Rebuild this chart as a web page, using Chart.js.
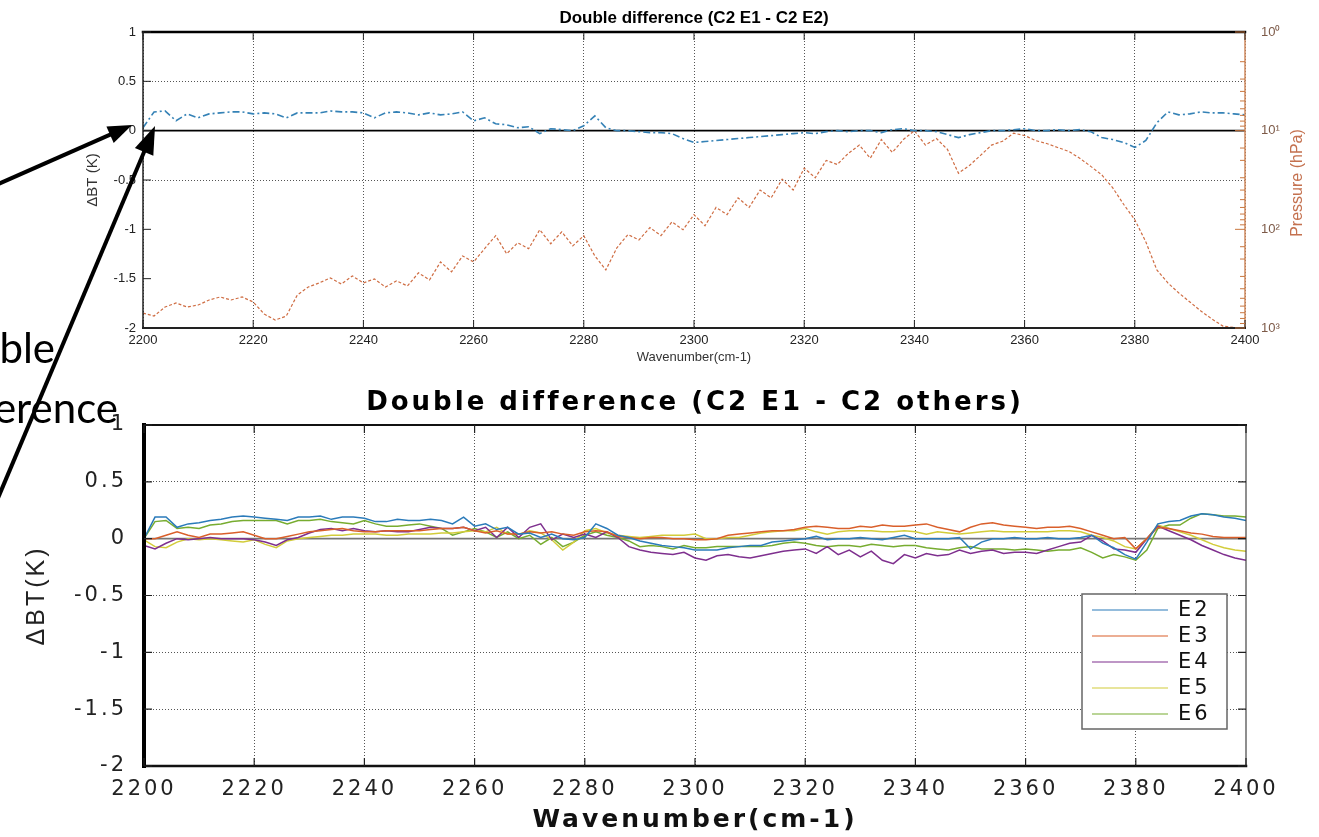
<!DOCTYPE html>
<html lang="en">
<head>
<meta charset="UTF-8">
<title>Double difference</title>
<script src="https://cdn.jsdelivr.net/npm/chart.js"></script>
<style>
  body { margin: 0; background: #fff; }
  .page { position: relative; width: 1319px; height: 837px; overflow: hidden; background: #fff; }
  #topChart { position: absolute; left: 0; top: 0; }
  #bottomChart { position: absolute; left: 0; top: 375px; }
  .notes { position: absolute; left: 0; top: 0; pointer-events: none; }
</style>
</head>
<body>
<div class="page">
  <canvas id="topChart" width="1319" height="375"></canvas>
  <canvas id="bottomChart" width="1319" height="462"></canvas>
  <svg class="notes" id="notes" width="1319" height="837">
    <text x="55" y="363" text-anchor="end" font-family="Lato, 'Open Sans', sans-serif" font-size="42" fill="#000">Double</text>
    <text x="118" y="423" text-anchor="end" font-family="Lato, 'Open Sans', sans-serif" font-size="42" fill="#000">difference</text>
  </svg>
</div>

<script>
// wavenumber grid (cm-1)
const waveNum = [
  2200, 2202, 2204, 2206, 2208, 2210, 2212, 2214, 2216, 2218,
  2220, 2222, 2224, 2226, 2228, 2230, 2232, 2234, 2236, 2238,
  2240, 2242, 2244, 2246, 2248, 2250, 2252, 2254, 2256, 2258,
  2260, 2262, 2264, 2266, 2268, 2270, 2272, 2274, 2276, 2278,
  2280, 2282, 2284, 2286, 2288, 2290, 2292, 2294, 2296, 2298,
  2300, 2302, 2304, 2306, 2308, 2310, 2312, 2314, 2316, 2318,
  2320, 2322, 2324, 2326, 2328, 2330, 2332, 2334, 2336, 2338,
  2340, 2342, 2344, 2346, 2348, 2350, 2352, 2354, 2356, 2358,
  2360, 2362, 2364, 2366, 2368, 2370, 2372, 2374, 2376, 2378,
  2380, 2382, 2384, 2386, 2388, 2390, 2392, 2394, 2396, 2398,
  2400
];

// top panel: C2 E1 - C2 E2 (K)
const topDeltaBT = [
  0.03, 0.19, 0.2, 0.1, 0.17, 0.13, 0.17, 0.18, 0.19, 0.19,
  0.17, 0.18, 0.17, 0.13, 0.18, 0.18, 0.18, 0.2, 0.19, 0.19,
  0.18, 0.13, 0.18, 0.19, 0.18, 0.16, 0.18, 0.16, 0.17, 0.19,
  0.1, 0.13, 0.07, 0.06, 0.03, 0.04, -0.03, 0.02, 0.01, 0.0,
  0.05, 0.15, 0.03, 0.0, 0.0, -0.01, -0.02, -0.02, -0.03, -0.08,
  -0.12, -0.11, -0.1, -0.09, -0.08, -0.07, -0.06, -0.05, -0.04, -0.03,
  -0.02, -0.03, -0.01, 0.0, -0.01, 0.0, 0.0, -0.02, 0.01, 0.02,
  0.0, 0.0, -0.01, -0.04, -0.07, -0.04, -0.02, 0.0, 0.0, 0.01,
  0.02, 0.0, 0.0, 0.01, 0.0, 0.01, -0.01, -0.07, -0.09, -0.12,
  -0.17, -0.1, 0.08, 0.19, 0.16, 0.17, 0.19, 0.18, 0.18, 0.17,
  0.16
];

// top panel: weighting function peak pressure (hPa)
const topPressure = [
  705, 757, 613, 558, 613, 585, 520, 485, 520, 485,
  545, 722, 831, 757, 463, 384, 349, 311, 358, 297,
  349, 318, 384, 333, 375, 276, 326, 214, 270, 186,
  214, 157, 116, 177, 137, 157, 101, 140, 106, 147,
  116, 186, 258, 154, 113, 128, 96, 116, 84, 101,
  71, 92, 60, 71, 48, 60, 40, 48, 31, 40,
  24, 30, 20, 22, 17, 14, 19, 12.3, 16.6, 12.3,
  10, 14, 12, 15.5, 27, 22.5, 17.8, 14, 12.8, 10.6,
  11.2, 12.6, 13.5, 14.8, 16.2, 19, 23, 28, 38, 56,
  80, 134, 258, 349, 442, 545, 673, 811, 957, 990,
  990
];

// bottom panel: C2 E1 - C2 En (K)
const seriesE2 = [
  0.0, 0.19, 0.19, 0.1, 0.13, 0.14, 0.16, 0.17, 0.19, 0.2,
  0.19, 0.18, 0.17, 0.16, 0.19, 0.19, 0.2, 0.17, 0.19, 0.19,
  0.18, 0.15, 0.15, 0.17, 0.16, 0.16, 0.17, 0.16, 0.13, 0.19,
  0.11, 0.13, 0.08, 0.1, 0.04, 0.05, 0.01, 0.04, 0.0, -0.01,
  0.01, 0.13, 0.09, 0.03, 0.01, -0.02, -0.04, -0.06, -0.07, -0.08,
  -0.1, -0.1, -0.1, -0.08, -0.07, -0.06, -0.06, -0.03, -0.02, -0.01,
  0.0, 0.02, -0.01, 0.0, 0.0, 0.01, 0.0, -0.01, 0.01, 0.03,
  0.0, 0.0, 0.0, 0.0, 0.01, -0.09, -0.03, 0.0, 0.0, 0.01,
  0.0, 0.0, 0.01, 0.0, 0.0, 0.01, 0.03, -0.04, -0.08, -0.14,
  -0.18, -0.03, 0.13, 0.15, 0.16, 0.2, 0.22, 0.21, 0.19, 0.18,
  0.16
];
const seriesE3 = [
  0.0, 0.0, 0.03, 0.06, 0.03, 0.01, 0.04, 0.04, 0.05, 0.06,
  0.03, 0.0, 0.0, 0.02, 0.04, 0.06, 0.07, 0.08, 0.09, 0.07,
  0.06, 0.06, 0.07, 0.07, 0.07, 0.07, 0.08, 0.09, 0.09, 0.1,
  0.07, 0.05, 0.07, 0.04, 0.04, 0.06, 0.05, 0.06, 0.04, 0.03,
  0.06, 0.07, 0.06, 0.02, 0.01, 0.0, 0.01, 0.01, 0.0, 0.0,
  -0.01, -0.01, 0.0, 0.03, 0.04, 0.05, 0.06, 0.07, 0.07, 0.08,
  0.1, 0.11, 0.1, 0.09, 0.09, 0.11, 0.1, 0.12, 0.11, 0.11,
  0.12, 0.13, 0.1, 0.08, 0.06, 0.1, 0.13, 0.14, 0.12, 0.11,
  0.1, 0.09, 0.1, 0.1, 0.11, 0.09, 0.06, 0.03, 0.0, 0.01,
  -0.09, 0.0, 0.1, 0.09, 0.07, 0.05, 0.04, 0.02, 0.01, 0.01,
  0.01
];
const seriesE4 = [
  -0.06, -0.09, -0.04, 0.0, -0.01, 0.0, 0.01, 0.0, 0.0, 0.0,
  -0.01, -0.03, -0.06, -0.01, 0.01, 0.05, 0.08, 0.09, 0.07, 0.09,
  0.07, 0.06, 0.07, 0.06, 0.06, 0.08, 0.1, 0.09, 0.09, 0.1,
  0.07, 0.1, 0.01, 0.1, 0.01, 0.1, 0.13, -0.01, 0.04, 0.01,
  0.04, 0.01, 0.06, 0.01, -0.07, -0.1, -0.12, -0.13, -0.14, -0.12,
  -0.17, -0.19, -0.15, -0.14, -0.16, -0.17, -0.15, -0.13, -0.11, -0.1,
  -0.09, -0.13, -0.07, -0.14, -0.1, -0.16, -0.11, -0.19, -0.22, -0.14,
  -0.17, -0.13, -0.15, -0.14, -0.1, -0.13, -0.11, -0.1, -0.13, -0.12,
  -0.12, -0.13, -0.1, -0.07, -0.04, -0.03, 0.03, -0.02, -0.09, -0.1,
  -0.12, 0.0, 0.11, 0.07, 0.03, -0.01, -0.06, -0.1, -0.14, -0.17,
  -0.19
];
const seriesE5 = [
  -0.01, -0.07, -0.08, -0.03, 0.0, -0.01, 0.0, -0.01, -0.02, -0.03,
  -0.01, -0.05, -0.08, -0.02, 0.0, 0.01, 0.02, 0.03, 0.03, 0.04,
  0.04, 0.04, 0.03, 0.03, 0.04, 0.04, 0.04, 0.05, 0.05, 0.06,
  0.07, 0.06, 0.1, 0.04, 0.04, 0.07, 0.05, -0.01, -0.1, -0.03,
  0.07, 0.09, 0.05, 0.03, 0.02, 0.01, 0.02, 0.03, 0.03, 0.03,
  0.04, 0.0, 0.0, 0.01, 0.01, 0.03, 0.05, 0.06, 0.07, 0.07,
  0.09, 0.06, 0.04, 0.06, 0.07, 0.07, 0.07, 0.06, 0.06, 0.07,
  0.06, 0.04, 0.06, 0.05, 0.04, 0.05, 0.06, 0.07, 0.06, 0.06,
  0.06, 0.06, 0.06, 0.07, 0.07, 0.06, 0.03, 0.01, -0.02, -0.07,
  -0.09, 0.0, 0.12, 0.09, 0.06, 0.03, -0.01, -0.05, -0.08, -0.1,
  -0.11
];
const seriesE6 = [
  0.0, 0.15, 0.16, 0.09, 0.1, 0.09, 0.12, 0.13, 0.15, 0.16,
  0.16, 0.16, 0.16, 0.13, 0.16, 0.16, 0.17, 0.15, 0.14, 0.13,
  0.16, 0.13, 0.11, 0.11, 0.12, 0.13, 0.11, 0.09, 0.03, 0.06,
  0.09, 0.06, 0.01, 0.06, 0.0, 0.03, -0.05, 0.01, -0.07, -0.03,
  0.03, 0.06, 0.03, 0.01, -0.02, -0.07, -0.06, -0.07, -0.09, -0.06,
  -0.08, -0.08, -0.07, -0.07, -0.07, -0.07, -0.07, -0.06, -0.04, -0.03,
  -0.04, -0.06, -0.07, -0.06, -0.06, -0.07, -0.05, -0.06, -0.07, -0.06,
  -0.06, -0.08, -0.09, -0.1, -0.08, -0.07, -0.09, -0.09, -0.09, -0.1,
  -0.09, -0.1, -0.11, -0.1, -0.1, -0.08, -0.12, -0.17, -0.14, -0.16,
  -0.19, -0.1, 0.09, 0.12, 0.12, 0.18, 0.22, 0.21, 0.2, 0.2,
  0.19
];
const seriesNames = ['E2', 'E3', 'E4', 'E5', 'E6'];

const zeroWave = [2200, 2400];
const zeroLine = [0, 0];

const pressureTicks = [1, 10, 100, 1000];

function pairs(xs, ys) {
  return xs.map((x, i) => ({ x: x, y: ys[i] }));
}

// chart area border, with a width/colour per side
const frame = {
  id: 'frame',
  afterDatasetsDraw(chart, args, o) {
    const { ctx, chartArea: a } = chart;
    const sides = {
      top: [a.left, a.top, a.right, a.top],
      bottom: [a.left, a.bottom, a.right, a.bottom],
      left: [a.left, a.top, a.left, a.bottom],
      right: [a.right, a.top, a.right, a.bottom]
    };
    ctx.save();
    ctx.lineCap = 'square';
    for (const k of ['right', 'top', 'bottom', 'left']) {
      const p = sides[k];
      ctx.strokeStyle = o[k + 'Color'];
      ctx.lineWidth = o[k + 'Width'];
      ctx.beginPath();
      ctx.moveTo(p[0], p[1]);
      ctx.lineTo(p[2], p[3]);
      ctx.stroke();
    }
    ctx.restore();
  }
};

// matlab style tick marks pointing into the plot
const innerTicks = {
  id: 'innerTicks',
  afterDatasetsDraw(chart, args, o) {
    const { ctx, chartArea: a, scales } = chart;
    ctx.save();
    ctx.strokeStyle = o.color;
    ctx.lineWidth = o.width;
    ctx.beginPath();
    scales.x.ticks.forEach(t => {
      const px = scales.x.getPixelForValue(t.value);
      ctx.moveTo(px, a.bottom); ctx.lineTo(px, a.bottom - o.len);
      ctx.moveTo(px, a.top); ctx.lineTo(px, a.top + o.len);
    });
    scales.y.ticks.forEach(t => {
      const py = scales.y.getPixelForValue(t.value);
      ctx.moveTo(a.left, py); ctx.lineTo(a.left + o.len, py);
      if (o.right) { ctx.moveTo(a.right, py); ctx.lineTo(a.right - o.len, py); }
    });
    ctx.stroke();
    if (o.logAxis) {
      const s = scales[o.logAxis];
      ctx.strokeStyle = o.logColor;
      ctx.lineWidth = 1;
      ctx.beginPath();
      s.ticks.forEach(t => {
        const e = Math.log10(t.value);
        const major = Math.abs(e - Math.round(e)) < 1e-9;
        const py = s.getPixelForValue(t.value);
        ctx.moveTo(a.right, py);
        ctx.lineTo(a.right - (major ? 10 : 5), py);
      });
      ctx.stroke();
    }
    ctx.restore();
  }
};

// right axis label reading bottom to top
const sideLabel = {
  id: 'sideLabel',
  afterDraw(chart, args, o) {
    const { ctx, chartArea: a } = chart;
    ctx.save();
    ctx.translate(a.right + o.offset, (a.top + a.bottom) / 2 + o.shift);
    ctx.rotate(-Math.PI / 2);
    ctx.font = o.font;
    ctx.fillStyle = o.color;
    ctx.textAlign = 'center';
    ctx.textBaseline = 'middle';
    ctx.fillText(o.text, 0, 0);
    ctx.restore();
  }
};

// boxed legend inside the plot, lower right
const boxLegend = {
  id: 'boxLegend',
  afterDraw(chart, args, o) {
    const { ctx, chartArea: a } = chart;
    const items = chart.data.datasets.filter(d => d.label);
    const x0 = a.right - o.right - o.width;
    const y0 = a.top + o.top;
    const h = o.rowH * items.length + 5;
    ctx.save();
    ctx.fillStyle = '#fff';
    ctx.fillRect(x0, y0, o.width, h);
    ctx.strokeStyle = '#666';
    ctx.lineWidth = 1.5;
    ctx.strokeRect(x0, y0, o.width, h);
    ctx.font = o.font;
    ctx.textBaseline = 'middle';
    ctx.fillStyle = '#111';
    items.forEach((d, i) => {
      const y = y0 + 16 + i * o.rowH;
      ctx.strokeStyle = d.borderColor;
      ctx.lineWidth = 1.2;
      ctx.beginPath();
      ctx.moveTo(x0 + 10, y); ctx.lineTo(x0 + 86, y);
      ctx.stroke();
      ctx.fillText(d.label, x0 + 96, y + 1);
    });
    ctx.restore();
  }
};

const spacing = {
  id: 'spacing',
  beforeUpdate(chart, args, o) { chart.ctx.letterSpacing = o.px + 'px'; },
  beforeDraw(chart, args, o) { chart.ctx.letterSpacing = o.px + 'px'; }
};

const topFont = "'Liberation Sans', Arial, sans-serif";
const sup = ['\u2070', '\u00b9', '\u00b2', '\u00b3'];

new Chart(document.getElementById('topChart'), {
  type: 'line',
  data: {
    datasets: [
      { label: 'E2', data: pairs(waveNum, topDeltaBT), yAxisID: 'y', borderColor: '#3582b6',
        borderWidth: 1.6, borderDash: [7, 3, 2, 3], pointRadius: 0, order: 1 },
      { label: 'Pressure', data: pairs(waveNum, topPressure), yAxisID: 'y1', borderColor: '#cf6d43',
        borderWidth: 1.2, borderDash: [3, 2], pointRadius: 0, order: 2 },
      { label: '', data: pairs(zeroWave, zeroLine), yAxisID: 'y', borderColor: '#000',
        borderWidth: 1.6, pointRadius: 0, order: 3 }
    ]
  },
  plugins: [frame, innerTicks, sideLabel],
  options: {
    responsive: false,
    animation: false,
    layout: { padding: 0 },
    plugins: {
      legend: { display: false },
      tooltip: { enabled: false },
      title: {
        display: true, fullSize: false,
        text: 'Double difference (C2 E1 - C2 E2)',
        color: '#000',
        font: { family: topFont, size: 17, weight: 'bold' },
        padding: { top: 8, bottom: 3.6 }
      },
      frame: { topColor: '#000', topWidth: 2.5, bottomColor: '#222', bottomWidth: 2,
               leftColor: '#222', leftWidth: 1.5, rightColor: '#d08a5e', rightWidth: 1.5 },
      innerTicks: { color: '#222', width: 1, len: 8, right: false, logAxis: 'y1', logColor: '#c9773f' },
      sideLabel: { text: 'Pressure (hPa)', offset: 53, shift: 3, color: '#c4714f',
                   font: "16px 'Liberation Sans', Arial, sans-serif" }
    },
    scales: {
      x: {
        type: 'linear', min: 2200, max: 2400,
        ticks: { stepSize: 20, maxRotation: 0, padding: 5, color: '#222',
                 font: { family: topFont, size: 13 }, callback: v => String(v) },
        grid: { color: '#555', lineWidth: 1, drawTicks: false },
        border: { display: false, dash: [1, 2] },
        title: { display: true, text: 'Wavenumber(cm-1)', color: '#333',
                 font: { family: topFont, size: 13 }, padding: { top: 0, bottom: 10 } },
        afterFit: s => { s.height = 47; }
      },
      y: {
        min: -2, max: 1,
        ticks: { stepSize: 0.5, padding: 7, color: '#222',
                 font: { family: topFont, size: 13 }, callback: v => String(v) },
        grid: {
          drawTicks: false, lineWidth: 1,
          color: c => (c.tick && Math.abs(Math.abs(c.tick.value) - 0.5) < 1e-6) ? '#555' : 'rgba(0,0,0,0)'
        },
        border: { display: false, dash: [1, 2] },
        title: { display: true, text: '\u0394BT (K)', color: '#333',
                 font: { family: topFont, size: 15 }, padding: { top: 84, bottom: 0 } },
        afterFit: s => { s.width = 143; }
      },
      y1: {
        type: 'logarithmic', position: 'right', reverse: true, min: 1, max: 1000,
        grid: { display: false },
        border: { display: false },
        ticks: {
          autoSkip: false, padding: 8, color: '#7d5a48',
          font: { family: topFont, size: 13 },
          callback: v => {
            const k = pressureTicks.indexOf(Number(v));
            return k >= 0 ? '10' + sup[k] : '';
          }
        },
        afterFit: s => { s.width = 74; }
      }
    }
  }
});

const bottomFont = "'DejaVu Sans', Verdana, sans-serif";
const seriesColors = ['#2b7bba', '#d95f2b', '#7e2f8e', '#d2cc3a', '#77ac30'];
const bottomSeries = [seriesE2, seriesE3, seriesE4, seriesE5, seriesE6];

const bottomSets = bottomSeries.map((vals, i) => ({
  label: seriesNames[i], data: pairs(waveNum, vals), borderColor: seriesColors[i],
  borderWidth: 1.5, pointRadius: 0, order: i + 1
}));
bottomSets.push({ label: '', data: pairs(zeroWave, zeroLine), borderColor: '#777',
                  borderWidth: 1.6, pointRadius: 0, order: 10 });

new Chart(document.getElementById('bottomChart'), {
  type: 'line',
  data: { datasets: bottomSets },
  plugins: [spacing, frame, innerTicks, boxLegend],
  options: {
    responsive: false,
    animation: false,
    layout: { padding: { right: 73 } },
    plugins: {
      legend: { display: false },
      tooltip: { enabled: false },
      spacing: { px: 3 },
      title: {
        display: true, fullSize: false,
        text: 'Double difference (C2 E1 - C2 others)',
        color: '#000',
        font: { family: bottomFont, size: 26, weight: 'bold' },
        padding: { top: 13, bottom: 5.8 }
      },
      frame: { topColor: '#111', topWidth: 2, bottomColor: '#111', bottomWidth: 2.5,
               leftColor: '#000', leftWidth: 4, rightColor: '#444', rightWidth: 1.2 },
      innerTicks: { color: '#222', width: 1.2, len: 8, right: true },
      boxLegend: { right: 19, top: 169, width: 145, rowH: 26, font: "21px 'DejaVu Sans', Verdana, sans-serif" }
    },
    scales: {
      x: {
        type: 'linear', min: 2200, max: 2400,
        ticks: { stepSize: 20, maxRotation: 0, padding: 11, color: '#222',
                 font: { family: bottomFont, size: 21 }, callback: v => String(v) },
        grid: {
          drawTicks: false, lineWidth: 1,
          color: c => (c.tick && c.tick.value > 2200 && c.tick.value < 2400) ? '#555' : 'rgba(0,0,0,0)'
        },
        border: { display: false, dash: [1, 2] },
        title: { display: true, text: 'Wavenumber(cm-1)', color: '#111',
                 font: { family: bottomFont, size: 25, weight: 'bold' }, padding: { top: 0, bottom: 2 } },
        afterFit: s => { s.height = 71; }
      },
      y: {
        min: -2, max: 1,
        ticks: { stepSize: 0.5, padding: 17, color: '#222',
                 font: { family: bottomFont, size: 21 }, callback: v => String(v) },
        grid: {
          drawTicks: false, lineWidth: 1,
          color: c => (c.tick && c.tick.value !== 0 && c.tick.value < 1 && c.tick.value > -2) ? '#555' : 'rgba(0,0,0,0)'
        },
        border: { display: false, dash: [1, 2] },
        title: { display: true, text: '\u0394BT(K)', color: '#222',
                 font: { family: "'Liberation Sans', Arial, sans-serif", size: 25 }, padding: { top: 22, bottom: 0 } },
        afterFit: s => { s.width = 144; }
      }
    }
  }
});

// annotation arrows
const arrows = [
  { from: [-4, 185], to: [132, 125], head: 24, half: 9 },
  { from: [-2, 498], to: [155, 126], head: 28, half: 10 }
];
const svg = document.getElementById('notes');
const NS = 'http://www.w3.org/2000/svg';
arrows.forEach(ar => {
  const [x1, y1] = ar.from, [x2, y2] = ar.to;
  const len = Math.hypot(x2 - x1, y2 - y1);
  const ux = (x2 - x1) / len, uy = (y2 - y1) / len;
  const bx = x2 - ux * ar.head, by = y2 - uy * ar.head;
  const line = document.createElementNS(NS, 'line');
  line.setAttribute('x1', x1); line.setAttribute('y1', y1);
  line.setAttribute('x2', bx + ux * 2); line.setAttribute('y2', by + uy * 2);
  line.setAttribute('stroke', '#000'); line.setAttribute('stroke-width', 4);
  svg.appendChild(line);
  const head = document.createElementNS(NS, 'polygon');
  const pts = [[x2, y2], [bx - uy * ar.half, by + ux * ar.half], [bx + uy * ar.half, by - ux * ar.half]];
  head.setAttribute('points', pts.map(p => p.join(',')).join(' '));
  head.setAttribute('fill', '#000');
  svg.appendChild(head);
});
</script>
</body>
</html>
